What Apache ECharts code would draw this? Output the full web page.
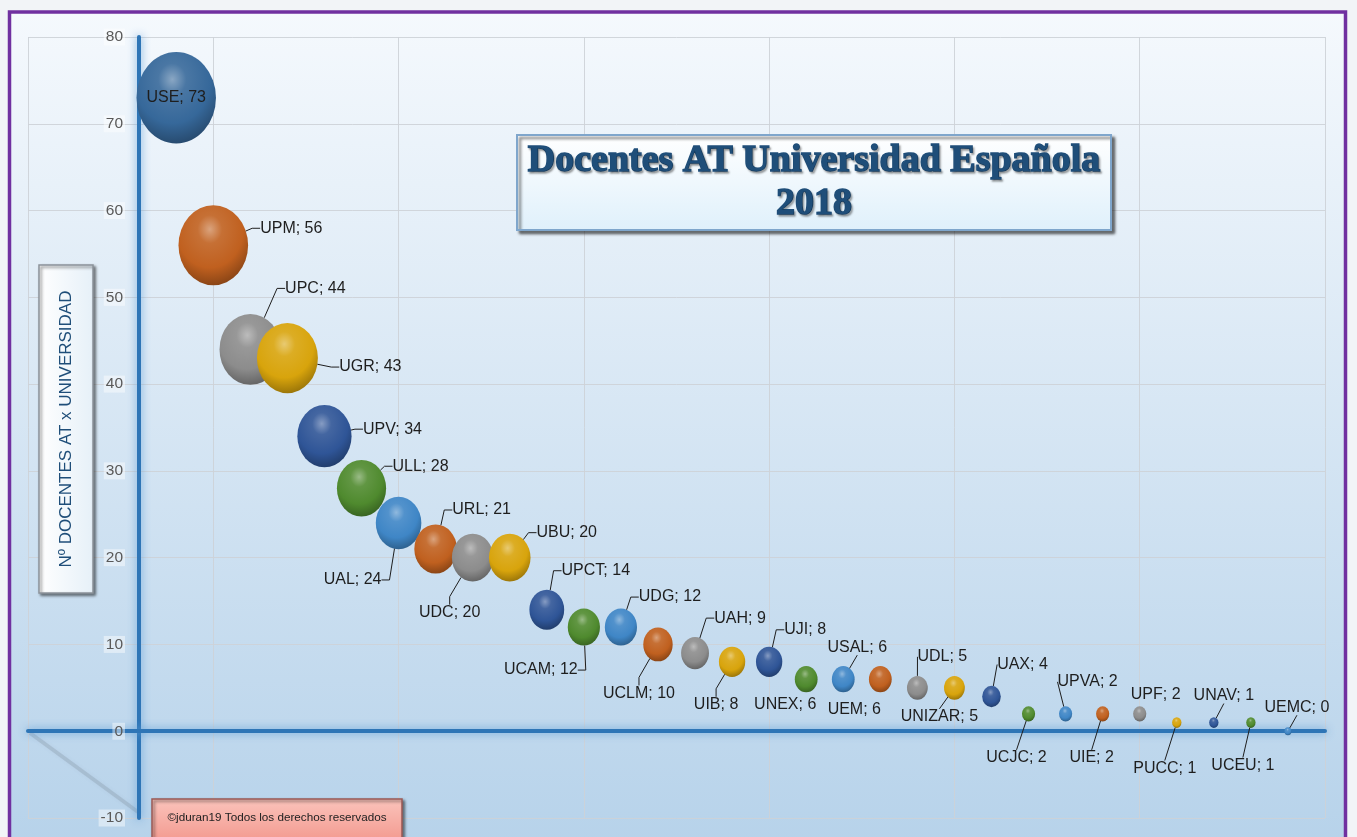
<!DOCTYPE html>
<html>
<head>
<meta charset="utf-8">
<title>Docentes AT Universidad Española 2018</title>
<script src="https://cdn.jsdelivr.net/npm/echarts@6/dist/echarts.min.js"></script>
<style>
  html, body { margin: 0; padding: 0; background: #f2f4f7; }
  #chart { width: 1357px; height: 837px; }
</style>
</head>
<body>
<div id="chart"></div>
<script>
// universities, in the order they are plotted
const universities = ['USE', 'UPM', 'UPC', 'UGR', 'UPV', 'ULL', 'UAL', 'URL', 'UDC', 'UBU',
  'UPCT', 'UCAM', 'UDG', 'UCLM', 'UAH', 'UIB', 'UJI', 'UNEX', 'USAL', 'UEM',
  'UDL', 'UNIZAR', 'UAX', 'UCJC', 'UPVA', 'UIE', 'UPF', 'PUCC', 'UNAV', 'UCEU', 'UEMC'];
const xPositions = [1, 2, 3, 4, 5, 6, 7, 8, 9, 10,
  11, 12, 13, 14, 15, 16, 17, 18, 19, 20,
  21, 22, 23, 24, 25, 26, 27, 28, 29, 30, 31];
const docentes = [73, 56, 44, 43, 34, 28, 24, 21, 20, 20,
  14, 12, 12, 10, 9, 8, 8, 6, 6, 6,
  5, 5, 4, 2, 2, 2, 2, 1, 1, 1, 0];
// bubble size = number of teachers
const bubbleSizes = docentes;

// where each data label sits, relative to its bubble (px)
const labelOffsets = [[0, 0], [78, -17], [65, -61], [83, 9], [68, -7], [59, -22], [-46, 57], [46, -39], [-23, 55], [57, -25],
  [49, -39], [-43, 43], [49, -30], [-19, 49], [45, -35], [-16, 43], [36, -32], [-21, 25], [14, -32], [-26, 30],
  [25, -31], [-15, 29], [31, -32], [-12, 44], [22, -32], [-11, 44], [16, -19], [-12, 46], [10, -27], [-8, 43], [9, -24]];
const noLeader = ['USE', 'UNEX', 'UEM', 'UPF'];

const palette = ['#3F86C6', '#C0601F', '#8C8C8C', '#D8A40C', '#2F5597', '#4F8A2E'];

function mix(hex, target, t) {
  const a = parseInt(hex.slice(1), 16), b = parseInt(target.slice(1), 16);
  const ch = (v, s) => (v >> s) & 255;
  const m = s => Math.round(ch(a, s) + (ch(b, s) - ch(a, s)) * t);
  return 'rgb(' + m(16) + ',' + m(8) + ',' + m(0) + ')';
}

function bubbleFill(i) {
  const c = i === 0 ? '#36689A' : palette[i % palette.length];
  return new echarts.graphic.RadialGradient(0.45, 0.3, 0.8, [
    {offset: 0, color: mix(c, '#ffffff', 0.42)},
    {offset: 0.22, color: mix(c, '#ffffff', 0.1)},
    {offset: 0.6, color: c},
    {offset: 0.85, color: mix(c, '#000000', 0.25)},
    {offset: 1, color: mix(c, '#000000', 0.4)}
  ]);
}

const seriesData = universities.map((name, i) => ({
  name: name,
  value: [xPositions[i], docentes[i], bubbleSizes[i]],
  itemStyle: {color: bubbleFill(i), opacity: 1},
  labelLine: noLeader.indexOf(name) >= 0 ? {show: false} : (i >= 17 ? {length2: 0} : {})
}));

const axisLineStyle = {
  color: '#2E75B6',
  width: 4,
  shadowColor: 'rgba(91,155,213,0.9)',
  shadowBlur: 8
};

const chart = echarts.init(document.getElementById('chart'));

const option = {
  backgroundColor: '#f2f4f7',
  animation: false,
  grid: {left: 28, right: 32, top: 37, bottom: 19, outerBoundsMode: 'none'},
  xAxis: [
    {
      type: 'value', min: -3, max: 32,
      axisLine: {show: true, onZero: true, lineStyle: axisLineStyle},
      axisTick: {show: false},
      axisLabel: {show: false},
      splitLine: {show: false}
    },
    {
      // only used for the vertical gridlines
      type: 'value', min: 0, max: 35, interval: 5, position: 'bottom',
      axisLine: {show: false, onZero: false},
      axisTick: {show: false},
      axisLabel: {show: false},
      splitLine: {show: true, lineStyle: {color: 'rgba(205,210,215,0.9)', width: 1}}
    }
  ],
  yAxis: {
    type: 'value', min: -10, max: 80, interval: 10,
    // sits on x = 0 of the first x axis
    offset: -111,
    axisLine: {show: true, onZero: false, lineStyle: axisLineStyle},
    axisTick: {show: false},
    axisLabel: {
      margin: 14,
      color: '#595959',
      fontSize: 15.5,
      fontFamily: 'Liberation Sans',
      backgroundColor: 'rgba(255,255,255,0.45)',
      padding: [1, 2, 0, 2]
    },
    splitLine: {show: true, lineStyle: {color: 'rgba(205,210,215,0.9)', width: 1}}
  },
  series: [{
    type: 'scatter',
    xAxisIndex: 0,
    silent: true,
    data: seriesData,
    symbolSize: function (val) {
      const w = Math.max(9.3 * Math.sqrt(val[2]), 7);
      return [w, w * 1.15];
    },
    itemStyle: {opacity: 1},
    label: {
      show: true,
      position: 'inside',
      formatter: p => p.name + '; ' + p.value[1],
      fontSize: 16,
      fontFamily: 'Liberation Sans',
      color: '#1e1e1e'
    },
    labelLayout: function (params) {
      const o = labelOffsets[params.dataIndex];
      return {dx: o[0], dy: o[1]};
    },
    labelLine: {
      show: true,
      showAbove: true,
      length2: 8,
      lineStyle: {color: '#1e1e1e', width: 1}
    },
    emphasis: {disabled: true}
  }],
  graphic: {
    elements: [
      {
        type: 'rect', z: -100, silent: true,
        shape: {x: 9.5, y: 12, width: 1336, height: 840},
        style: {
          fill: new echarts.graphic.LinearGradient(0, 0, 0, 1, [
            {offset: 0, color: '#f5f9fd'},
            {offset: 1, color: '#b6d2ea'}
          ]),
          stroke: '#7030A0',
          lineWidth: 3.5
        }
      },
      {
        type: 'line', z: -50, silent: true,
        shape: {x1: 30, y1: 733, x2: 138, y2: 812},
        style: {stroke: 'rgba(90,100,110,0.18)', lineWidth: 4, shadowBlur: 4, shadowColor: 'rgba(90,100,110,0.3)'}
      },
      {
        type: 'rect', z: 5, silent: true,
        shape: {x: 517, y: 135, width: 594, height: 95},
        style: {
          fill: new echarts.graphic.LinearGradient(0, 0, 0, 1, [
            {offset: 0, color: '#ffffff'},
            {offset: 1, color: '#dff0fb'}
          ]),
          stroke: '#7fa6cc',
          lineWidth: 2,
          shadowColor: 'rgba(0,0,0,0.55)',
          shadowBlur: 3,
          shadowOffsetX: 3,
          shadowOffsetY: 3
        }
      },
      {
        type: 'text', z: 6, silent: true,
        x: 814, y: 183,
        style: {
          text: 'Docentes AT Universidad Española\n2018',
          font: 'bold 38px "Liberation Serif"',
          fill: '#1F4E79',
          stroke: '#1F4E79',
          lineWidth: 1.5,
          lineHeight: 43,
          align: 'center',
          verticalAlign: 'middle',
          textShadowColor: 'rgba(0,0,0,0.3)',
          textShadowBlur: 2,
          textShadowOffsetX: 1.5,
          textShadowOffsetY: 1.5
        }
      },
      {
        type: 'rect', z: 5, silent: true,
        shape: {x: 39, y: 265, width: 54, height: 328},
        style: {
          fill: new echarts.graphic.LinearGradient(0, 0, 1, 0, [
            {offset: 0, color: '#ffffff'},
            {offset: 1, color: '#e6f0f8'}
          ]),
          stroke: '#8c939a',
          lineWidth: 1.5,
          shadowColor: 'rgba(0,0,0,0.5)',
          shadowBlur: 3,
          shadowOffsetX: 2,
          shadowOffsetY: 2
        }
      },
      {
        type: 'text', z: 6, silent: true,
        x: 66, y: 429, rotation: Math.PI / 2,
        style: {
          text: 'Nº DOCENTES AT x UNIVERSIDAD',
          font: '17px "Liberation Sans"',
          fill: '#1F4E79',
          align: 'center',
          verticalAlign: 'middle'
        }
      },
      {
        type: 'rect', z: 5, silent: true,
        shape: {x: 152, y: 799, width: 250, height: 40},
        style: {
          fill: new echarts.graphic.LinearGradient(0, 0, 0, 1, [
            {offset: 0, color: '#fbc4bc'},
            {offset: 1, color: '#f39b91'}
          ]),
          stroke: '#9a5a55',
          lineWidth: 1.5,
          shadowColor: 'rgba(0,0,0,0.5)',
          shadowBlur: 3,
          shadowOffsetX: 2,
          shadowOffsetY: 2
        }
      },
      {
        type: 'text', z: 6, silent: true,
        x: 277, y: 818,
        style: {
          text: '©jduran19 Todos los derechos reservados',
          font: '11.7px "Liberation Sans"',
          fill: '#222222',
          align: 'center',
          verticalAlign: 'middle'
        }
      }
    ]
  }
};

chart.setOption(option);
</script>
</body>
</html>
